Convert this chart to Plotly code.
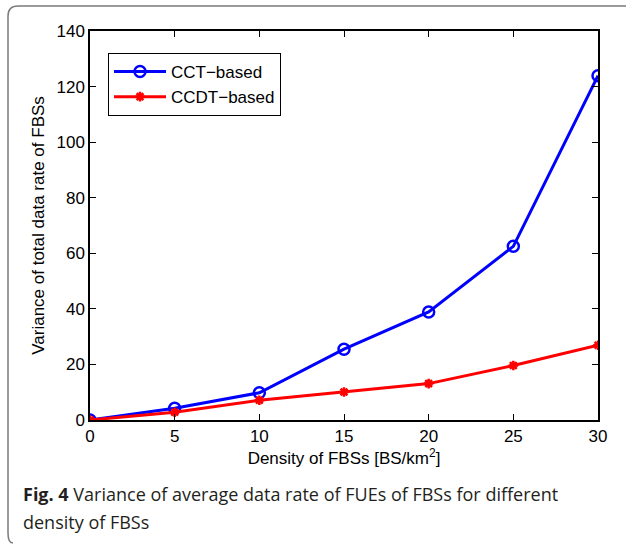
import plotly.graph_objects as go

density = [0, 5, 10, 15, 20, 25, 30]
cct_based = [0, 4.2, 9.8, 25.5, 38.9, 62.5, 123.9]
ccdt_based = [0, 2.8, 7.1, 10.1, 13.1, 19.6, 26.9]
x_ticks = [0, 5, 10, 15, 20, 25, 30]
y_ticks = [0, 20, 40, 60, 80, 100, 120, 140]

W, H = 626, 547
L, R, T, B = 90, 598, 31, 420


def px(x):
    return (x - L) / (R - L)


def py(y):
    return (B - y) / (B - T)


FONT = "Liberation Sans"

fig = go.Figure()
fig.add_trace(go.Scatter(
    x=density, y=cct_based, name="CCT\u2212based", mode="lines+markers",
    line=dict(color="#0000ff", width=3),
    marker=dict(symbol="circle-open", size=11, color="#0000ff", line=dict(width=2.5)),
))
fig.add_trace(go.Scatter(
    x=density, y=ccdt_based, name="CCDT\u2212based", mode="lines+markers",
    line=dict(color="#ff0000", width=3),
    marker=dict(symbol="asterisk-open", size=8, color="#ff0000", line=dict(width=2.5, color="#ff0000")),
))

axis_common = dict(
    showgrid=False, zeroline=False, showline=True, linecolor="black", linewidth=1.5,
    mirror="ticks", ticks="inside", ticklen=6, tickcolor="black",
    tickfont=dict(family=FONT, size=17, color="black"),
)
fig.update_xaxes(range=[0, 30], tickvals=x_ticks, **axis_common,
                 title=dict(text="Density of FBSs [BS/km<sup>2</sup>]",
                            font=dict(family=FONT, size=17, color="black"),
                            standoff=4))
fig.update_yaxes(range=[0, 140], tickvals=y_ticks, **axis_common,
                 title=dict(text="Variance of total data rate of FBSs",
                            font=dict(family=FONT, size=17, color="black"),
                            standoff=8))

# outer figure frame (top edge and left edge with rounded corner)
r = 10
path = (f"M {px(W + 5)},{py(6)} L {px(8 + r)},{py(6)} "
        f"Q {px(8)},{py(6)} {px(8)},{py(6 + r)} "
        f"L {px(8)},{py(533)} Q {px(8)},{py(543)} {px(13)},{py(543)}")
fig.add_shape(type="path", path=path, xref="paper", yref="paper",
              line=dict(color="#7a7a7a", width=1.5), layer="below")

cap_font = dict(family="Open Sans", size=18, color="#231f20")
fig.add_annotation(text="<b>Fig. 4</b> Variance of average data rate of FUEs of FBSs for different",
                   x=px(21), y=py(494), xref="paper", yref="paper", xanchor="left", yanchor="middle",
                   showarrow=False, font=cap_font)
fig.add_annotation(text="density of FBSs",
                   x=px(21), y=py(522), xref="paper", yref="paper", xanchor="left", yanchor="middle",
                   showarrow=False, font=cap_font)

fig.update_layout(
    width=W, height=H,
    margin=dict(l=L, r=W - R, t=T, b=H - B),
    paper_bgcolor="white", plot_bgcolor="white",
    showlegend=True,
    legend=dict(x=px(108), y=py(53), xanchor="left", yanchor="top",
                bordercolor="black", borderwidth=1, bgcolor="white",
                font=dict(family=FONT, size=17, color="black"),
                tracegroupgap=0, itemwidth=52),
)

fig.write_html("out.html")
